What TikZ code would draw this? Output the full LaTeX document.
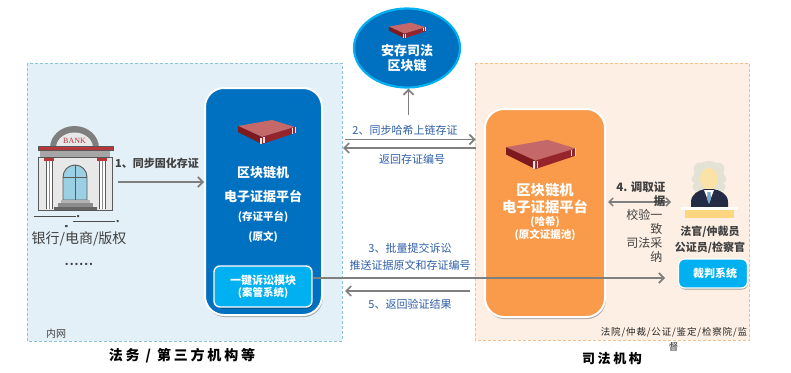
\documentclass[tikz,border=0pt]{standalone}
\usepackage{fontspec}
\setmainfont{Noto Sans CJK SC}
\newfontfamily\wide[LetterSpace=20]{Noto Sans CJK SC}
\newfontfamily\slightwide[LetterSpace=9]{Noto Sans CJK SC}
\newfontfamily\bankfont{Liberation Serif}
\usetikzlibrary{arrows.meta,shadows,shapes.geometric,calc}
\definecolor{panelblue}{HTML}{E3F0F7}
\definecolor{panelblueline}{HTML}{8CC4D8}
\definecolor{panelorange}{HTML}{FDEFE4}
\definecolor{panelorangeline}{HTML}{F5C08E}
\definecolor{chainblue}{HTML}{0070C0}
\definecolor{moduleblue}{HTML}{00B0F0}
\definecolor{nodeorange}{HTML}{F99B4A}
\definecolor{linkgray}{HTML}{7F7F7F}
\definecolor{labelblue}{HTML}{2F5FA8}
\definecolor{labeldark}{HTML}{404040}
\definecolor{srvtop}{HTML}{C4686A}
\definecolor{srvfront}{HTML}{7E1A1E}
\definecolor{srvside}{HTML}{96242A}
\definecolor{wallgray}{HTML}{E8E8E8}
\definecolor{edgegray}{HTML}{595959}
\definecolor{glassblue}{HTML}{9BCFE3}
\definecolor{bankred}{HTML}{B5373A}
\definecolor{wiggray}{HTML}{E4E1D5}
\definecolor{skintone}{HTML}{FBE3A8}
\definecolor{robenavy}{HTML}{232B45}
\definecolor{tieblue}{HTML}{7FA6CF}
\definecolor{benchyellow}{HTML}{FCD77F}
\newcommand{\fsz}[1]{\fontsize{#1}{#1}\selectfont}
\tikzset{
  x=1pt, y=-1pt,
  panel/.style={draw=#1, densely dashed, line width=0.7pt},
  platform/.style={draw=white, line width=2pt, rounded corners=19pt, inner sep=0pt,
    drop shadow={shadow xshift=0.8pt, shadow yshift=-2pt, opacity=0.3, fill=black}},
  modulebox/.style={draw=white, line width=1.4pt, fill=moduleblue, rounded corners=6pt, inner sep=0pt,
    drop shadow={shadow xshift=0.5pt, shadow yshift=-1.5pt, opacity=0.35, fill=black}},
  link/.style={draw=linkgray, line width=1.7pt, -{Straight Barb[length=5pt,width=10pt,line width=1.7pt]}},
  bothlink/.style={draw=linkgray, line width=1.5pt, {Straight Barb[length=4pt,width=8pt,line width=1.5pt]}-{Straight Barb[length=4pt,width=8pt,line width=1.5pt]}},
  whitetext/.style={text=white, font=\bfseries\fsz{#1}, inner sep=0pt},
  bluelabel/.style={text=labelblue, font=\fsz{11}, inner sep=0pt},
  darklabel/.style={text=labeldark, font=\fsz{#1}, inner sep=0pt},
  pics/server/.style={code={
    % rack server: top, front and side faces with two handles
    \fill[srvtop] (-25,-6) -- (9,-12) -- (32,-5) -- (-1,5) -- cycle;
    \fill[srvfront] (-25,-6) -- (-1,5) -- (-1,12) -- (-25,0) -- cycle;
    \fill[srvside] (-1,5) -- (32,-5) -- (32,1) -- (-1,12) -- cycle;
    \draw[white!80!gray, line width=1.2pt] (-2,5.5) -- (-2,11.5) (1,5) -- (1,11);
    \draw[white!80!gray, line width=1pt] (29,-4) -- (29,1.5) (32,-5) -- (32,1);
  }},
}
\begin{document}
\begin{tikzpicture}
\useasboundingbox (0,0) rectangle (791,372);
\fill[white] (0,0) rectangle (791,372);

% Organisation panels
\draw[panel=panelblueline, fill=panelblue] (27,63) rectangle (342,341);
\draw[panel=panelorangeline, fill=panelorange] (475,63) rectangle (749.5,340);

% Bank building
\begin{scope}
  \fill[linkgray] (50,148) arc[start angle=180,end angle=0,x radius=24.5,y radius=-22] -- cycle;
  \fill[wallgray] (56,148) arc[start angle=180,end angle=0,x radius=18.5,y radius=-15.5] -- cycle;
  \node[text=bankred, font=\bankfont\fsz{8}, inner sep=0pt] (banksign) at (74.5,140.5) {BANK};
  \draw[fill=wallgray, draw=edgegray, line width=1pt] (38.5,157) rectangle (112.5,210);
  \fill[black!35] (40,149) rectangle (110,157);
  \draw[fill=bankred, draw=edgegray, line width=0.8pt] (38,146.5) rectangle (113,150);
  \foreach \cx in {49,102}{
    \fill[white] (\cx-3,161) rectangle (\cx+3,209);
    \draw[edgegray, line width=0.8pt] (\cx-3,161) -- (\cx-3,209) (\cx+3,161) -- (\cx+3,209);
    \draw[black!45, line width=0.5pt] (\cx,161) -- (\cx,209);
    \fill[bankred] (\cx-5,157.5) rectangle (\cx+5,161);
  }
  \draw[fill=glassblue, draw=edgegray, line width=0.9pt]
    (63,200) -- (63,177) arc[start angle=180,end angle=0,x radius=12,y radius=-12] -- (87,200) -- cycle;
  \draw[edgegray, line width=0.9pt] (75,165) -- (75,200) (63,177) -- (87,177);
  \fill[black!30] (61,200) rectangle (90,203);
  \fill[black!45] (58,203) rectangle (93,206.5);
  \fill[black!60] (54,206.5) rectangle (97,210);
  \draw[black!70, line width=1pt] (33.5,216) -- (75.5,216) (73,221) -- (115,221);
  \fill[black!70] (77,215.2) rectangle (79,217) (116.5,220.2) rectangle (118.5,222) (65,225) rectangle (67.5,227);
\end{scope}
\node[text=labeldark, font=\fsz{14}, inner sep=0pt] (banklabel) at (79,239) {银行/电商/版权};
\node[text=labeldark, font=\slightwide\bfseries\fsz{11}, inner sep=0pt, anchor=base] (bankdots) at (79,265) {......};
\node[darklabel=10] (intranet) at (56,333.5) {内网};

% Evidence platform on the institution side
\node[platform, fill=chainblue, minimum width=117pt, minimum height=227pt] (evidence) at (263.5,201.5) {};
\pic at (263,132) {server};
\node[whitetext=13] (evline1) at (263,173) {区块链机};
\node[whitetext=13] (evline2) at (263,196) {电子证据平台};
\node[whitetext=10.5] (evline3) at (263,217) {(存证平台)};
\node[whitetext=10.5] (evline4) at (263,237) {(原文)};
\node[modulebox, minimum width=98pt, minimum height=41pt] (module) at (263,286.5) {};
\node[whitetext=11] (modline1) at (263,280) {一键诉讼模块};
\node[whitetext=10.5] (modline2) at (263,293.5) {(案管系统)};

% Judicial chain
\node[ellipse, draw=moduleblue, line width=2.2pt, fill=chainblue, minimum width=106pt, minimum height=79pt, inner sep=0pt] (chain) at (407,48) {};
\pic[scale=0.65] at (405,30.5) {server};
\node[whitetext=13] (chline1) at (407,51) {安存司法};
\node[whitetext=13] (chline2) at (407,66) {区块链};

% Evidence platform on the judicial side
\node[platform, fill=nodeorange, minimum width=120pt, minimum height=208pt] (hashpool) at (545,213) {};
\pic[scale=1.22] at (536.5,154.5) {server};
\node[whitetext=14.3] (hpline1) at (545,190) {区块链机};
\node[whitetext=14.3] (hpline2) at (545,207) {电子证据平台};
\node[whitetext=10.5] (hpline3) at (545,222) {(哈希)};
\node[whitetext=10.5] (hpline4) at (545,235) {(原文证据池)};

% Judge figure
\begin{scope}
  \fill[wiggray]
    (709,176) circle (15) (700,169) circle (6.5) (718,169) circle (6.5) (709,167) circle (5)
    (696,179) circle (4.5) (722,179) circle (4.5) (697,187) circle (4.5) (721,187) circle (4.5);
  \fill[skintone] (709,179) ellipse[x radius=9,y radius=11];
  \fill[robenavy] (691,207) -- (691,202) .. controls (691,194) and (699,190) .. (705,189)
    -- (713,189) .. controls (720,190) and (728,194) .. (728,202) -- (728,207) -- cycle;
  \fill[white] (704,190) -- (714,190) -- (709,203) -- cycle;
  \fill[tieblue] (707.5,192) -- (710.5,192) -- (711,199) -- (709,204) -- (707,199) -- cycle;
  \fill[white] (681,207) rectangle (738,209.5);
  \fill[benchyellow] (685,210) rectangle (734,218);
\end{scope}
\node[text=labeldark, font=\bfseries\fsz{11}, inner sep=0pt] (judgeline1) at (710,232) {法官/仲裁员};
\node[text=labeldark, font=\bfseries\fsz{11}, inner sep=0pt] (judgeline2) at (710,248) {公证员/检察官};
\node[modulebox, minimum width=69pt, minimum height=29pt] (verdict) at (713,273.5) {};
\node[whitetext=11] (verdictlabel) at (715,273) {裁判系统};

% Connector end points
\coordinate (bankout) at (118,182);
\coordinate (chainfoot) at (408.5,115);
\coordinate (hashleft) at (475.5,139.5);
\coordinate (evright) at (345,139.5);
\coordinate (hashret) at (475.5,148);
\coordinate (evret) at (343,148);
\coordinate (verdictin) at (665,278);
\coordinate (hashresult) at (470,291);
\coordinate (moduleret) at (345,291);
\coordinate (judgeout) at (671,202);

% Connectors
\draw[link] (bankout) -- (evidence.west |- bankout);
\draw[link] (chainfoot) -- (chain.south -| chainfoot);
\draw[link] (evright) -- (hashleft);
\draw[link] (hashret) -- (evret);
\draw[link] (module.east |- verdictin) -- (verdictin);
\draw[link] (hashresult) -- (moduleret);
\draw[bothlink] (hashpool.east |- judgeout) ++(2,0) coordinate (hashport) (hashport) -- (judgeout);

% Connector labels
\node[text=labeldark, font=\bfseries\fsz{11}, inner sep=0pt] (step1) at (157,163) {1、同步固化存证};
\node[bluelabel] (step2) at (405,130) {2、同步哈希上链存证};
\node[bluelabel] (step2back) at (412,159) {返回存证编号};
\node[bluelabel] (step3a) at (410,248) {3、批量提交诉讼};
\node[bluelabel] (step3b) at (410,265) {推送证据原文和存证编号};
\node[bluelabel] (step5) at (410,304) {5、返回验证结果};
\node[text=labeldark, font=\bfseries\fsz{11.5}, inner sep=0pt, anchor=east, align=right] (step4a) at (665.5,187) {4. 调取证};
\node[text=labeldark, font=\bfseries\fsz{11.5}, inner sep=0pt, anchor=east] (step4b) at (665.5,201) {据};
\node[darklabel=12, anchor=east] (check1) at (662.5,215) {校验一};
\node[darklabel=12, anchor=east] (check2) at (662.5,229) {致};
\node[darklabel=12, anchor=east] (check3) at (662.5,243) {司法采};
\node[darklabel=12, anchor=east] (check4) at (662.5,257) {纳};

% Panel captions
\node[text=black!85, font=\slightwide\fsz{9.5}, inner sep=0pt] (courts1) at (674,332) {法院/仲裁/公证/鉴定/检察院/监};
\node[text=black!85, font=\fsz{9.5}, inner sep=0pt] (courts2) at (673.5,347) {督};
\node[text=black, font=\wide\bfseries\fsz{14}, inner sep=0pt] (captionleft) at (182,356) {法务 / 第三方机构等};
\node[text=black, font=\wide\bfseries\fsz{13}, inner sep=0pt] (captionright) at (612,359) {司法机构};
\end{tikzpicture}
\end{document}
